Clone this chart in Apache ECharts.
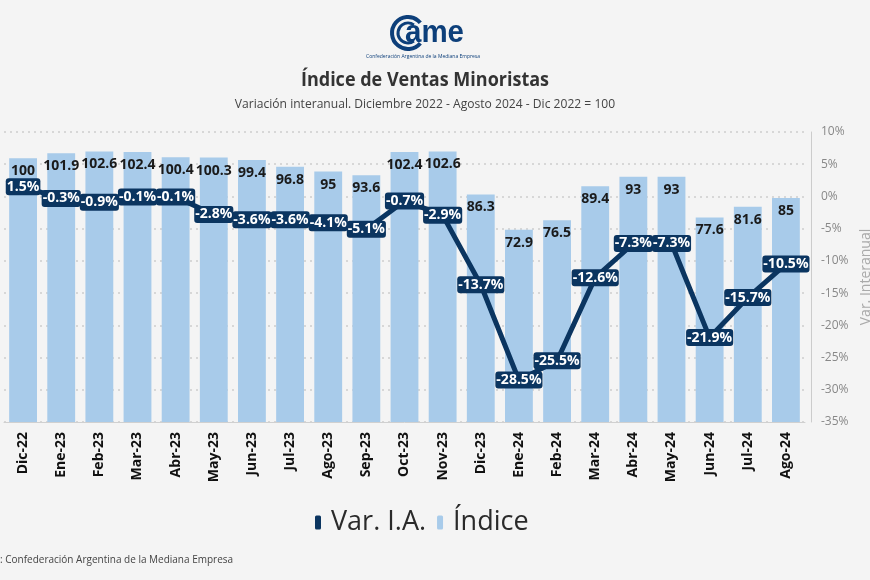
<!DOCTYPE html>
<html>
<head>
<meta charset="utf-8">
<script src="https://cdn.jsdelivr.net/npm/echarts@6/dist/echarts.min.js"></script>
<style>html,body{margin:0;padding:0;background:#f4f4f4;}#c{width:870px;height:580px;}</style>
</head>
<body>
<div id="c"></div>
<script>
const categories = ['Dic-22','Ene-23','Feb-23','Mar-23','Abr-23','May-23','Jun-23','Jul-23','Ago-23','Sep-23','Oct-23','Nov-23','Dic-23','Ene-24','Feb-24','Mar-24','Abr-24','May-24','Jun-24','Jul-24','Ago-24'];
const indiceValues = [100, 101.9, 102.6, 102.4, 100.4, 100.3, 99.4, 96.8, 95, 93.6, 102.4, 102.6, 86.3, 72.9, 76.5, 89.4, 93, 93, 77.6, 81.6, 85];
const varValues = [1.5, -0.3, -0.9, -0.1, -0.1, -2.8, -3.6, -3.6, -4.1, -5.1, -0.7, -2.9, -13.7, -28.5, -25.5, -12.6, -7.3, -7.3, -21.9, -15.7, -10.5];
const seriesNames = ['Var. I.A.', 'Índice'];

const NAVY = '#0b3560';
const LIGHT = '#a8cbea';
const chart = echarts.init(document.getElementById('c'));
chart.setOption({
  backgroundColor: '#f4f4f4',
  animation: false,
  grid: { left: 4, right: 65, top: 132, bottom: 158, containLabel: false, outerBoundsMode: 'none' },
  legend: {
    data: seriesNames,
    left: 310, top: 504,
    icon: 'roundRect', itemWidth: 6, itemHeight: 14, itemGap: 11,
    textStyle: { fontSize: 27, color: '#2a2a2a', fontFamily: 'Open Sans', padding: [0, 0, 0, 5] }
  },
  xAxis: {
    type: 'category', data: categories,
    axisLine: { lineStyle: { color: '#d0d0d0' } },
    axisTick: { alignWithLabel: true, length: 4, lineStyle: { color: '#cccccc' } },
    axisLabel: { rotate: 90, fontWeight: 'bold', fontSize: 14, color: '#111', fontFamily: 'Open Sans', margin: 10 }
  },
  yAxis: [
    { type: 'value', min: 0, max: 110, show: false, splitLine: { show: false } },
    {
      type: 'value', position: 'right', min: -35, max: 10, interval: 5, offset: 6,
      axisLine: { show: true, lineStyle: { color: '#cccccc' } },
      axisTick: { show: false },
      axisLabel: { formatter: '{value}%', color: '#888', fontSize: 12, fontFamily: 'Open Sans', margin: 10 },
      splitLine: { show: true, lineStyle: { type: [2, 4], color: '#cdcdcd', width: 1.5 } },
      name: 'Var. Interanual', nameLocation: 'middle', nameRotate: 90, nameGap: 38,
      nameTextStyle: { color: '#aaa', fontSize: 14, fontFamily: 'Open Sans' }
    }
  ],
  series: [
    {
      name: seriesNames[0], type: 'line', yAxisIndex: 1, data: varValues, z: 5,
      lineStyle: { color: NAVY, width: 5 }, itemStyle: { color: NAVY },
      symbol: 'circle', symbolSize: 4,
      label: {
        show: true, position: 'inside',
        formatter: p => p.value.toFixed(1) + '%',
        color: '#fff', fontWeight: 'bold', fontSize: 14, fontFamily: 'Open Sans',
        backgroundColor: NAVY, padding: [0, 1], borderRadius: 3, lineHeight: 17
      }
    },
    {
      name: seriesNames[1], type: 'bar', yAxisIndex: 0, data: indiceValues,
      barCategoryGap: '27%', itemStyle: { color: LIGHT },
      label: { show: true, position: 'insideTop', distance: 6, color: '#1a1a1a', fontWeight: 'bold', fontSize: 14, fontFamily: 'Open Sans' }
    }
  ],
  graphic: [
    { type: 'arc', shape: { cx: 408, cy: 33, r: 16, startAngle: Math.PI * 0.22, endAngle: Math.PI * 1.78 }, style: { stroke: '#0d3f7a', lineWidth: 4, fill: null } },
    { type: 'arc', shape: { cx: 408, cy: 33, r: 10, startAngle: Math.PI * 0.3, endAngle: Math.PI * 1.7 }, style: { stroke: '#0d3f7a', lineWidth: 3, fill: null } },
    { type: 'text', x: 405, y: 33, scaleX: 0.95, style: { text: 'ame', x: 0, y: 0, textAlign: 'left', textVerticalAlign: 'middle', font: 'bold 31px "Liberation Sans"', fill: '#0d3f7a' } },
    { type: 'text', x: 423, y: 57, style: { text: 'Confederación Argentina de la Mediana Empresa', x: 0, y: 0, textAlign: 'center', textVerticalAlign: 'middle', font: '5px "Open Sans"', fill: '#0d3f7a' } },
    { type: 'text', x: 425, y: 80, scaleX: 0.9, style: { text: 'Índice de Ventas Minoristas', x: 0, y: 0, textAlign: 'center', textVerticalAlign: 'middle', font: 'bold 20px "Open Sans"', fill: '#333' } },
    { type: 'text', x: 425, y: 104, scaleX: 0.93, style: { text: 'Variación interanual. Diciembre 2022 - Agosto 2024 - Dic 2022 = 100', x: 0, y: 0, textAlign: 'center', textVerticalAlign: 'middle', font: '13px "Open Sans"', fill: '#444' } },
    { type: 'text', x: 0, y: 560, style: { text: ': Confederación Argentina de la Mediana Empresa', x: 0, y: 0, textAlign: 'left', textVerticalAlign: 'middle', font: '10px "Open Sans"', fill: '#444' } }
  ]
});
</script>
</body>
</html>
